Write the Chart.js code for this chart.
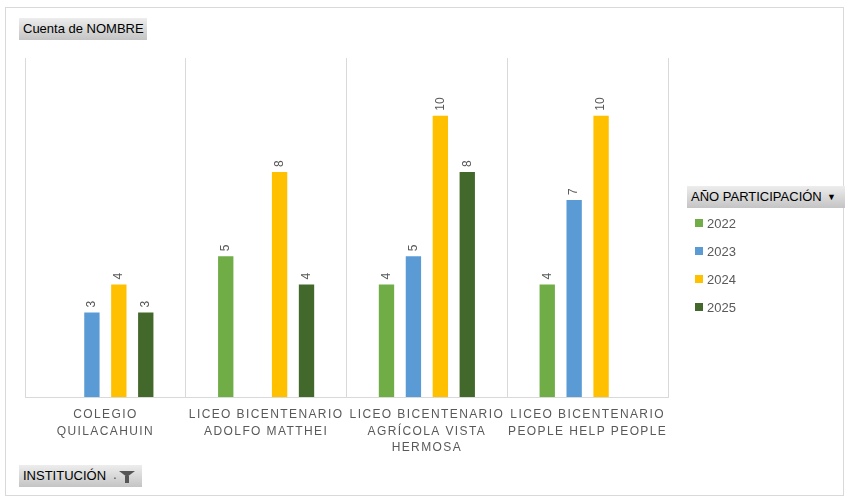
<!DOCTYPE html>
<html>
<head>
<meta charset="utf-8">
<script src="https://cdn.jsdelivr.net/npm/chart.js@4/dist/chart.umd.min.js"></script>
<style>
  html, body { margin: 0; padding: 0; background: #fff; }
  #wrap { position: relative; width: 847px; height: 499px; overflow: hidden; }
  #frame { position: absolute; left: 5px; top: 7px; width: 839px; height: 489px; border: 1px solid #d9d9d9; box-sizing: border-box; }
  canvas { position: absolute; left: 0; top: 0; }
  .btn {
    position: absolute; box-sizing: border-box; height: 22px;
    background: linear-gradient(#ededed, #c4c4c4);
    font: 13px 'Liberation Sans Narrow', 'Liberation Sans', sans-serif; color: #000;
    line-height: 22px; padding-left: 4px; white-space: nowrap;
  }
  #legend { position: absolute; left: 695px; top: 215px; }
  .item { height: 28px; font: 13px 'Liberation Sans', sans-serif; color: #595959; line-height: 18px; }
  .item span.sw { display: inline-block; width: 8px; height: 8px; margin-right: 4px; vertical-align: 1px; }
  .funnel { position: absolute; left: 100px; top: 6px; width: 0; height: 0;
    border-left: 8px solid transparent; border-right: 8px solid transparent; border-top: 6px solid #555; }
  .funnel::after { content: ''; position: absolute; left: -2px; top: -1px; width: 4px; height: 7px; background: #555; }
</style>
</head>
<body>
<div id="wrap">
  <div id="frame"></div>
  <canvas id="chart" width="847" height="499"></canvas>
  <div class="btn" style="left:19px;top:18px;width:128px;">Cuenta de NOMBRE</div>
  <div class="btn" style="left:687px;top:186px;width:158px;">AÑO PARTICIPACIÓN<span style="position:absolute;left:140px;top:0;font-size:9px;">&#9660;</span></div>
  <div class="btn" style="left:19px;top:465px;width:123px;">INSTITUCIÓN<span style="position:absolute;left:94px;top:-2px;font-size:14px;color:#555;">.</span><span class="funnel"></span></div>
  <div id="legend"></div>
</div>
<script>
const categories = [
    ['COLEGIO', 'QUILACAHUIN'],
    ['LICEO BICENTENARIO', 'ADOLFO MATTHEI'],
    ['LICEO BICENTENARIO', 'AGRÍCOLA VISTA', 'HERMOSA'],
    ['LICEO BICENTENARIO', 'PEOPLE HELP PEOPLE']
];
const years = ['2022', '2023', '2024', '2025'];
const values2022 = [null, 5, 4, 4];
const values2023 = [3, null, 5, 7];
const values2024 = [4, 8, 10, 10];
const values2025 = [3, 4, 8, null];
const colors = ['#70AD47', '#5B9BD5', '#FFC000', '#43682B'];

const seriesValues = [values2022, values2023, values2024, values2025];

// HTML legend built from the series
const legend = document.getElementById('legend');
years.forEach((y, i) => {
    const div = document.createElement('div');
    div.className = 'item';
    div.innerHTML = '<span class="sw" style="background:' + colors[i] + '"></span>' + y;
    legend.appendChild(div);
});

// rotated value labels above bars
const valueLabels = {
    id: 'valueLabels',
    afterDatasetsDraw(chart) {
        const ctx = chart.ctx;
        ctx.save();
        ctx.letterSpacing = '0px';
        ctx.font = '12px "Liberation Sans", sans-serif';
        ctx.fillStyle = '#595959';
        ctx.textAlign = 'left';
        ctx.textBaseline = 'middle';
        chart.data.datasets.forEach((ds, i) => {
            chart.getDatasetMeta(i).data.forEach((bar, j) => {
                if (ds.data[j] === null) return;
                ctx.save();
                ctx.translate(bar.x, bar.y - 5);
                ctx.rotate(-Math.PI / 2);
                ctx.fillText(String(ds.data[j]), 0, 0);
                ctx.restore();
            });
        });
        ctx.restore();
    }
};

const spacing = {
    id: 'spacing',
    beforeDraw(chart) { chart.ctx.letterSpacing = '1.4px'; }
};

new Chart(document.getElementById('chart'), {
    type: 'bar',
    data: {
        labels: categories,
        datasets: years.map((y, i) => ({
            label: y,
            data: seriesValues[i],
            backgroundColor: colors[i],
            categoryPercentage: 0.67,
            barPercentage: 0.57
        }))
    },
    options: {
        responsive: false,
        animation: false,
        layout: { padding: { left: 25, right: 179, top: 58, bottom: 0 } },
        plugins: { legend: { display: false }, tooltip: { enabled: false } },
        scales: {
            x: {
                afterFit: s => { s.height = 102; },
                grid: { color: '#d9d9d9', drawTicks: false, offset: true },
                border: { color: '#d9d9d9' },
                ticks: {
                    color: '#595959',
                    font: { family: 'Liberation Sans', size: 12, lineHeight: 1.4 },
                    padding: 9,
                    maxRotation: 0,
                    autoSkip: false
                }
            },
            y: {
                display: false,
                min: 0,
                max: 12.05
            }
        }
    },
    plugins: [spacing, valueLabels]
});
</script>
</body>
</html>
